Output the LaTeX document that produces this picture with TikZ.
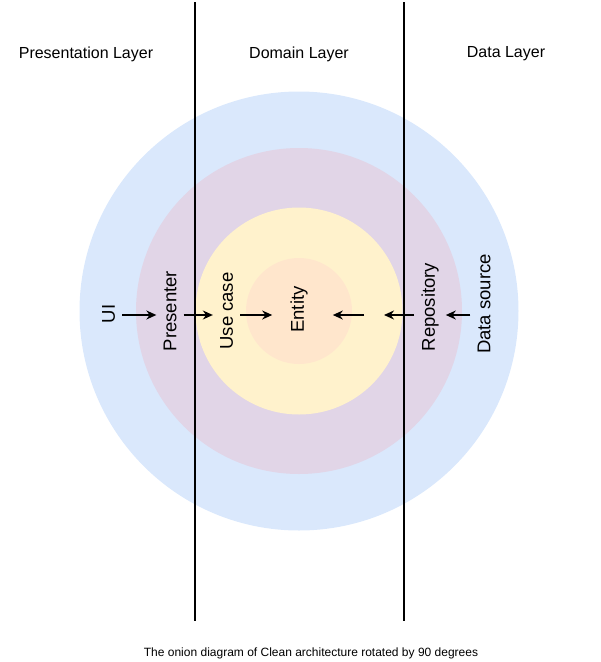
\documentclass[tikz,border=0pt]{standalone}
\usepackage{fontspec}
\setmainfont{Liberation Sans}
\usetikzlibrary{arrows.meta}

\definecolor{outerblue}{RGB}{218,232,252}
\definecolor{ringpurple}{RGB}{225,213,231}
\definecolor{coreyellow}{RGB}{255,242,204}
\definecolor{entitypeach}{RGB}{255,230,204}

\begin{document}
\begin{tikzpicture}
[every node/.style={inner sep=7pt},
 layer/.style={font=\fontsize{16pt}{19pt}\selectfont},
 ring/.style={rotate=90, font=\fontsize{18.5pt}{22pt}\selectfont},
 flow/.style={line width=1.4pt, ->, >={Stealth[length=10pt,width=9pt]}},
 border/.style={line width=1.6pt, color=black}]
\useasboundingbox (0pt, 0pt) rectangle (601pt, -662pt);
% onion rings
\fill [outerblue] (299pt, -311pt) circle (219.5pt);
\fill [ringpurple] (299pt, -311pt) circle (163pt);
\fill [coreyellow] (299pt, -311pt) circle (103.5pt);
\fill [entitypeach] (299pt, -311pt) circle (53pt);
% layer titles
\node (presentation) [layer] at (86pt, -54pt) {Presentation Layer};
\node (domain) [layer] at (299pt, -54pt) {Domain Layer};
\node (data) [layer] at (506pt, -54pt) {Data Layer};
% layer borders
\coordinate (lefttop) at (195pt, -2pt);
\coordinate (leftbottom) at (195pt, -621pt);
\coordinate (righttop) at (404pt, -2pt);
\coordinate (rightbottom) at (404pt, -621pt);
\draw [border] (lefttop) -- (leftbottom);
\draw [border] (righttop) -- (rightbottom);
% ring labels
\node (ui) [ring] at (108.5pt, -314pt) {UI};
\node (presenter) [ring] at (170pt, -311pt) {Presenter};
\node (usecase) [ring] at (226.5pt, -311pt) {Use case};
\node (entity) [ring] at (299pt, -309.5pt) {Entity};
\node (repository) [ring] at (430pt, -307pt) {Repository};
\node (datasource) [ring] at (484pt, -304pt) {Data source};
% dependency arrows
\coordinate (row) at (0pt, -315pt);
\coordinate (repoend) at (384pt, -315pt);
\coordinate (entitystart) at (364pt, -315pt);
\draw [flow] (ui.south |- row) -- (presenter.north |- row);
\draw [flow] (presenter.south |- row) -- (usecase.north |- row);
\draw [flow, shorten >=11pt] (usecase.south |- row) -- (entity.north |- row);
\draw [flow] (datasource.north |- row) -- (repository.south |- row);
\draw [flow] (repository.north |- row) -- (repoend);
\draw [flow, shorten >=18pt] (entitystart) -- (entity.south |- row);
% caption
\node (caption) [font=\fontsize{12pt}{14pt}\selectfont] at (311pt, -653pt) {The onion diagram of Clean architecture rotated by 90 degrees};
\end{tikzpicture}
\end{document}
